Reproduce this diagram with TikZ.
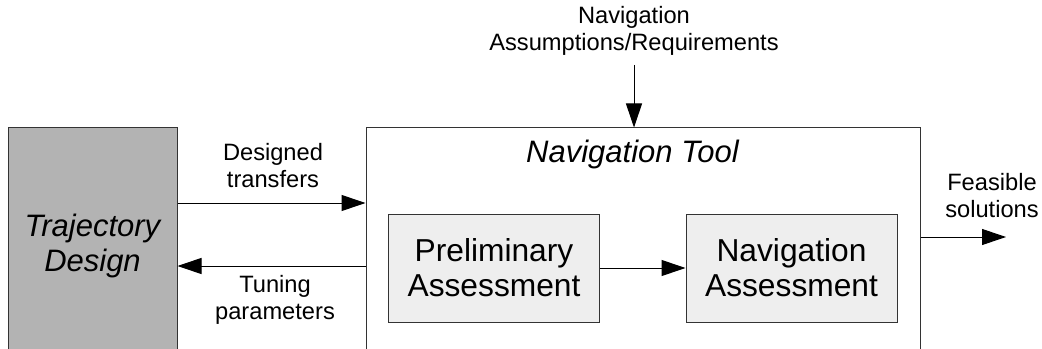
\documentclass[tikz,border=0pt]{standalone}
\usepackage{fontspec}
\setmainfont{Liberation Sans}
\usetikzlibrary{arrows.meta}
\definecolor{trajgray}{HTML}{B3B3B3}
\definecolor{boxgray}{HTML}{EEEEEE}
\definecolor{edge}{HTML}{333333}
\begin{document}
\begin{tikzpicture}[x=0.75pt,y=-0.75pt,
  arr/.style={line width=0.75pt,-{Triangle[length=18pt,width=12pt]}},
  lbl/.style={align=center,inner sep=0pt,font=\fontsize{17.75}{20.3}\selectfont},
  inbox/.style={draw=edge,line width=0.75pt,fill=boxgray,minimum width=211*0.75pt,minimum height=108*0.75pt,inner sep=0pt,align=center,font=\fontsize{23.8}{26.25}\selectfont},
]
\useasboundingbox (0,0) rectangle (1042,349);
\clip (0,0) rectangle (1042,349);
% Trajectory Design box
\node[draw=edge,line width=0.75pt,fill=trajgray,minimum width=169*0.75pt,minimum height=236*0.75pt,inner sep=0pt,align=center,
  font=\itshape\fontsize{23.25}{26.25}\selectfont] (traj) at (92.5,246) {Trajectory\\Design};
% Navigation Tool box
\node[draw=edge,line width=0.75pt,minimum width=554*0.75pt,minimum height=236*0.75pt,inner sep=0pt] (nav) at (643,246) {};
\node[inner sep=0pt,anchor=base,font=\itshape\fontsize{23.25}{26}\selectfont] (navtitle) at (632.5,163) {Navigation Tool};
% inner boxes
\node[inbox] (pre) at (494,268) {Preliminary\\Assessment};
\node[inbox] (nass) at (791.5,268) {Navigation\\Assessment};
% labels
\node[lbl] (top) at (634,31) {Navigation\\Assumptions/Requirements};
\node[lbl] (dtl) at (273,166) {Designed\\transfers};
\node[lbl] (tpl) at (275,300) {Tuning\\parameters};
\node[lbl] (fsl) at (992,196) {Feasible\\solutions};
% coordinates
\coordinate (topstart) at (634,65);
\coordinate (dt) at (0,203);
\coordinate (tp) at (0,266);
\coordinate (fs) at (0,237);
\coordinate (fsend) at (1006,237);
% connectors
\draw[arr] (topstart) -- (topstart |- nav.north);
\draw[arr] (traj.east |- dt) -- (nav.west |- dt);
\draw[arr] (nav.west |- tp) -- (traj.east |- tp);
\draw[arr] (pre.east) -- (nass.west);
\draw[arr] (nav.east |- fs) -- (fsend);
\end{tikzpicture}
\end{document}
